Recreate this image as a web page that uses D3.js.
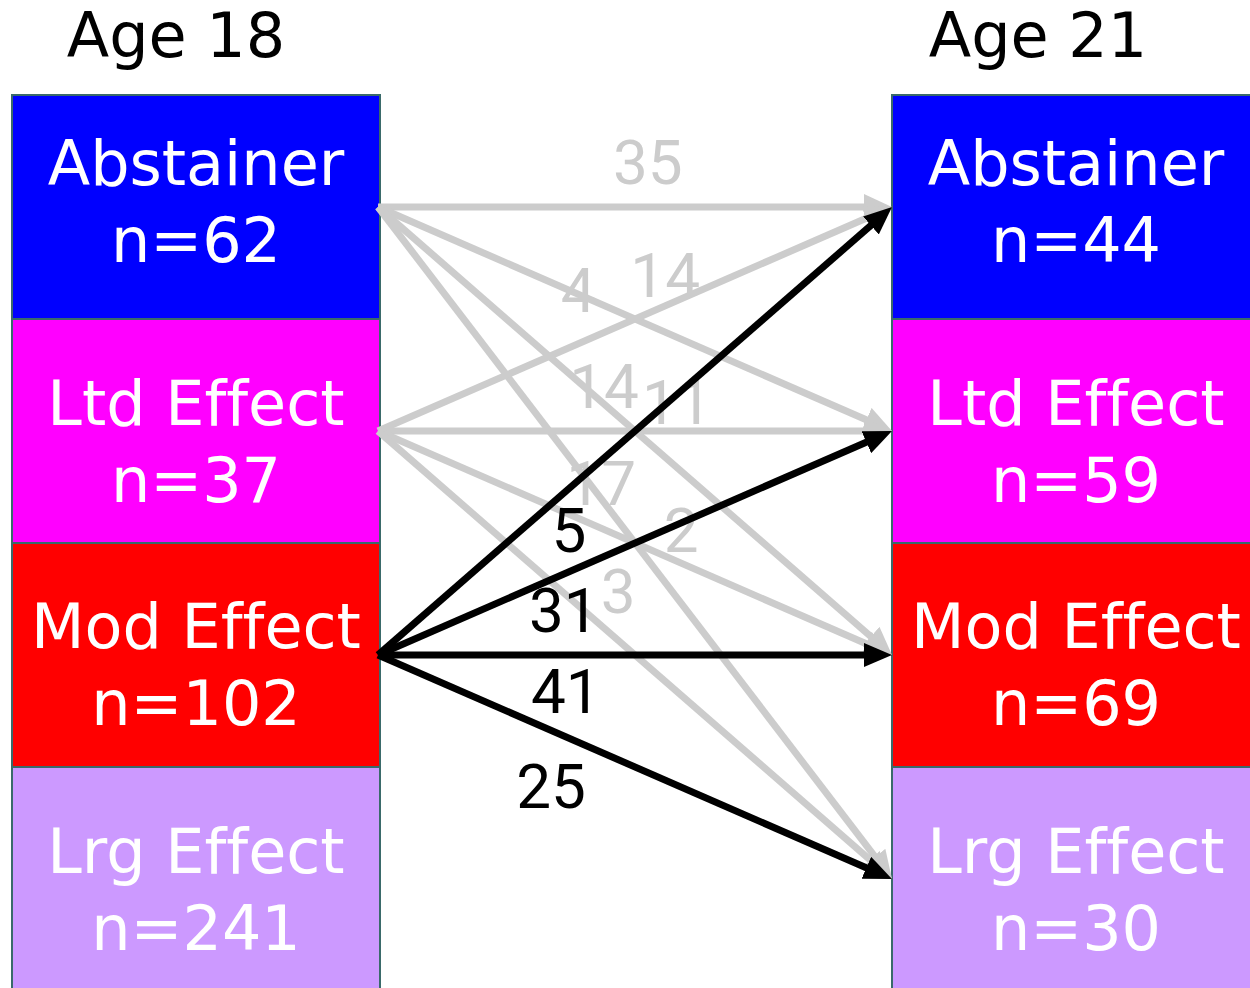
<!DOCTYPE html>
<html>
<head>
<meta charset="utf-8">
<script src="https://cdn.jsdelivr.net/npm/d3@7"></script>
<style>
    html, body { margin: 0; padding: 0; background: #fff; }
    svg { display: block; }
    text { font-variant-ligatures: none; font-feature-settings: "liga" 0, "clig" 0; }
</style>
</head>
<body>
<svg id="chart" width="1250" height="988"></svg>
<script>
// categories and counts
const categories = ["Abstainer", "Ltd Effect", "Mod Effect", "Lrg Effect"];
const ages = ["Age 18", "Age 21"];
const n18 = [62, 37, 102, 241];
const n21 = [44, 59, 69, 30];
const boxColors = ["#0000ff", "#ff00ff", "#ff0000", "#cc99ff"];

// transitions age 18 -> age 21
const flowFrom  = ["Abstainer", "Abstainer", "Abstainer", "Abstainer",
                   "Ltd Effect", "Ltd Effect", "Ltd Effect", "Ltd Effect",
                   "Mod Effect", "Mod Effect", "Mod Effect", "Mod Effect"];
const flowTo    = ["Abstainer", "Ltd Effect", "Mod Effect", "Lrg Effect",
                   "Abstainer", "Ltd Effect", "Mod Effect", "Lrg Effect",
                   "Abstainer", "Ltd Effect", "Mod Effect", "Lrg Effect"];
const flowCount = [35, 14, 11, 2, 4, 14, 17, 3, 5, 31, 41, 25];
const highlighted = "Mod Effect";

// label placement along each arrow: fraction of the way across, offset from the line
const labelT  = [0.523, 0.557, 0.58, 0.588, 0.387, 0.4375, 0.432, 0.465, 0.369, 0.359, 0.363, 0.334];
const labelDy = [-23, -35, -43, -50, -32, -23, -23, -26, 62, 57, 58, 78];
// vertical shift of the two text lines inside each box
const textShift = [-22, -6, -7, -6];

const svg = d3.select("#chart");

const col = d3.scaleBand()
    .domain(ages)
    .range([12, 1260])
    .paddingInner(512 / 880)
    .paddingOuter(0);

const row = d3.scaleBand()
    .domain(categories)
    .range([95, 991]);

const color = d3.scaleOrdinal().domain(categories).range(boxColors);

const counts = { "Age 18": n18, "Age 21": n21 };
const headX = { "Age 18": -20, "Age 21": -38 };

const boxes = [];
ages.forEach(age => {
    categories.forEach((c, i) => boxes.push({ age: age, cat: c, n: counts[age][i], shift: textShift[i] }));
});

// headings
svg.append("g")
    .selectAll("text")
    .data(ages)
    .join("text")
    .attr("x", d => col(d) + col.bandwidth() / 2 + headX[d])
    .attr("y", 57)
    .attr("text-anchor", "middle")
    .attr("font-family", "DejaVu Sans, sans-serif")
    .attr("font-size", 62)
    .attr("fill", "#000")
    .text(d => d);

// boxes
const box = svg.append("g")
    .selectAll("g")
    .data(boxes)
    .join("g");

box.append("rect")
    .attr("x", d => col(d.age))
    .attr("y", d => row(d.cat))
    .attr("width", col.bandwidth())
    .attr("height", row.bandwidth())
    .attr("fill", d => color(d.cat))
    .attr("stroke", "#3a6a6a")
    .attr("stroke-width", 2);

box.append("text")
    .attr("x", d => col(d.age) + col.bandwidth() / 2)
    .attr("y", d => row(d.cat) + row.bandwidth() / 2 + d.shift)
    .attr("text-anchor", "middle")
    .attr("font-family", "DejaVu Sans, sans-serif")
    .attr("font-size", 62)
    .attr("fill", "#fff")
    .text(d => d.cat);

box.append("text")
    .attr("x", d => col(d.age) + col.bandwidth() / 2)
    .attr("y", d => row(d.cat) + row.bandwidth() / 2 + d.shift + 77)
    .attr("text-anchor", "middle")
    .attr("font-family", "DejaVu Sans, sans-serif")
    .attr("font-size", 62)
    .attr("fill", "#fff")
    .text(d => "n=" + d.n);

// arrow markers
const defs = svg.append("defs");
[["grey", "#cccccc", 28, 26], ["black", "#000000", 28, 24]].forEach(([id, fill, len, wid]) => {
    defs.append("marker")
        .attr("id", "head-" + id)
        .attr("markerUnits", "userSpaceOnUse")
        .attr("markerWidth", len)
        .attr("markerHeight", wid)
        .attr("viewBox", `0 0 ${len} ${wid}`)
        .attr("refX", len - 20)
        .attr("refY", wid / 2)
        .attr("orient", "auto")
        .append("path")
        .attr("d", `M0,0L${len},${wid / 2}L0,${wid}Z`)
        .attr("fill", fill);
});

const x0 = col("Age 18") + col.bandwidth();
const x1 = col("Age 21");
const mid = c => row(c) + row.bandwidth() / 2;

const flows = flowCount.map((v, i) => {
    const sy = mid(flowFrom[i]), ty = mid(flowTo[i]);
    const dx = x1 - x0, dy = ty - sy, len = Math.hypot(dx, dy);
    const lx = x0 + labelT[i] * dx;
    return {
        value: v,
        hot: flowFrom[i] === highlighted,
        x1: x0 - 2, y1: sy,
        x2: x1 - 20 * dx / len, y2: ty - 20 * dy / len,
        lx: lx,
        ly: sy + labelT[i] * dy + labelDy[i]
    };
});

function drawLayer(list, stroke, width, marker) {
    svg.append("g")
        .selectAll("line")
        .data(list)
        .join("line")
        .attr("x1", d => d.x1)
        .attr("y1", d => d.y1)
        .attr("x2", d => d.x2)
        .attr("y2", d => d.y2)
        .attr("stroke", stroke)
        .attr("stroke-width", width)
        .attr("marker-end", `url(#${marker})`);
}

function drawLabels(list, fill) {
    svg.append("g")
        .selectAll("text")
        .data(list)
        .join("text")
        .attr("x", d => d.lx)
        .attr("y", d => d.ly)
        .attr("text-anchor", "middle")
        .attr("font-family", "Roboto, sans-serif")
        .attr("font-size", 62)
        .attr("fill", fill)
        .text(d => d.value);
}

const grey = flows.filter(d => !d.hot);
const black = flows.filter(d => d.hot);

drawLayer(grey, "#cccccc", 7, "head-grey");
drawLabels(grey, "#cccccc");
drawLayer(black, "#000000", 7, "head-black");
drawLabels(black, "#000000");
</script>
</body>
</html>
